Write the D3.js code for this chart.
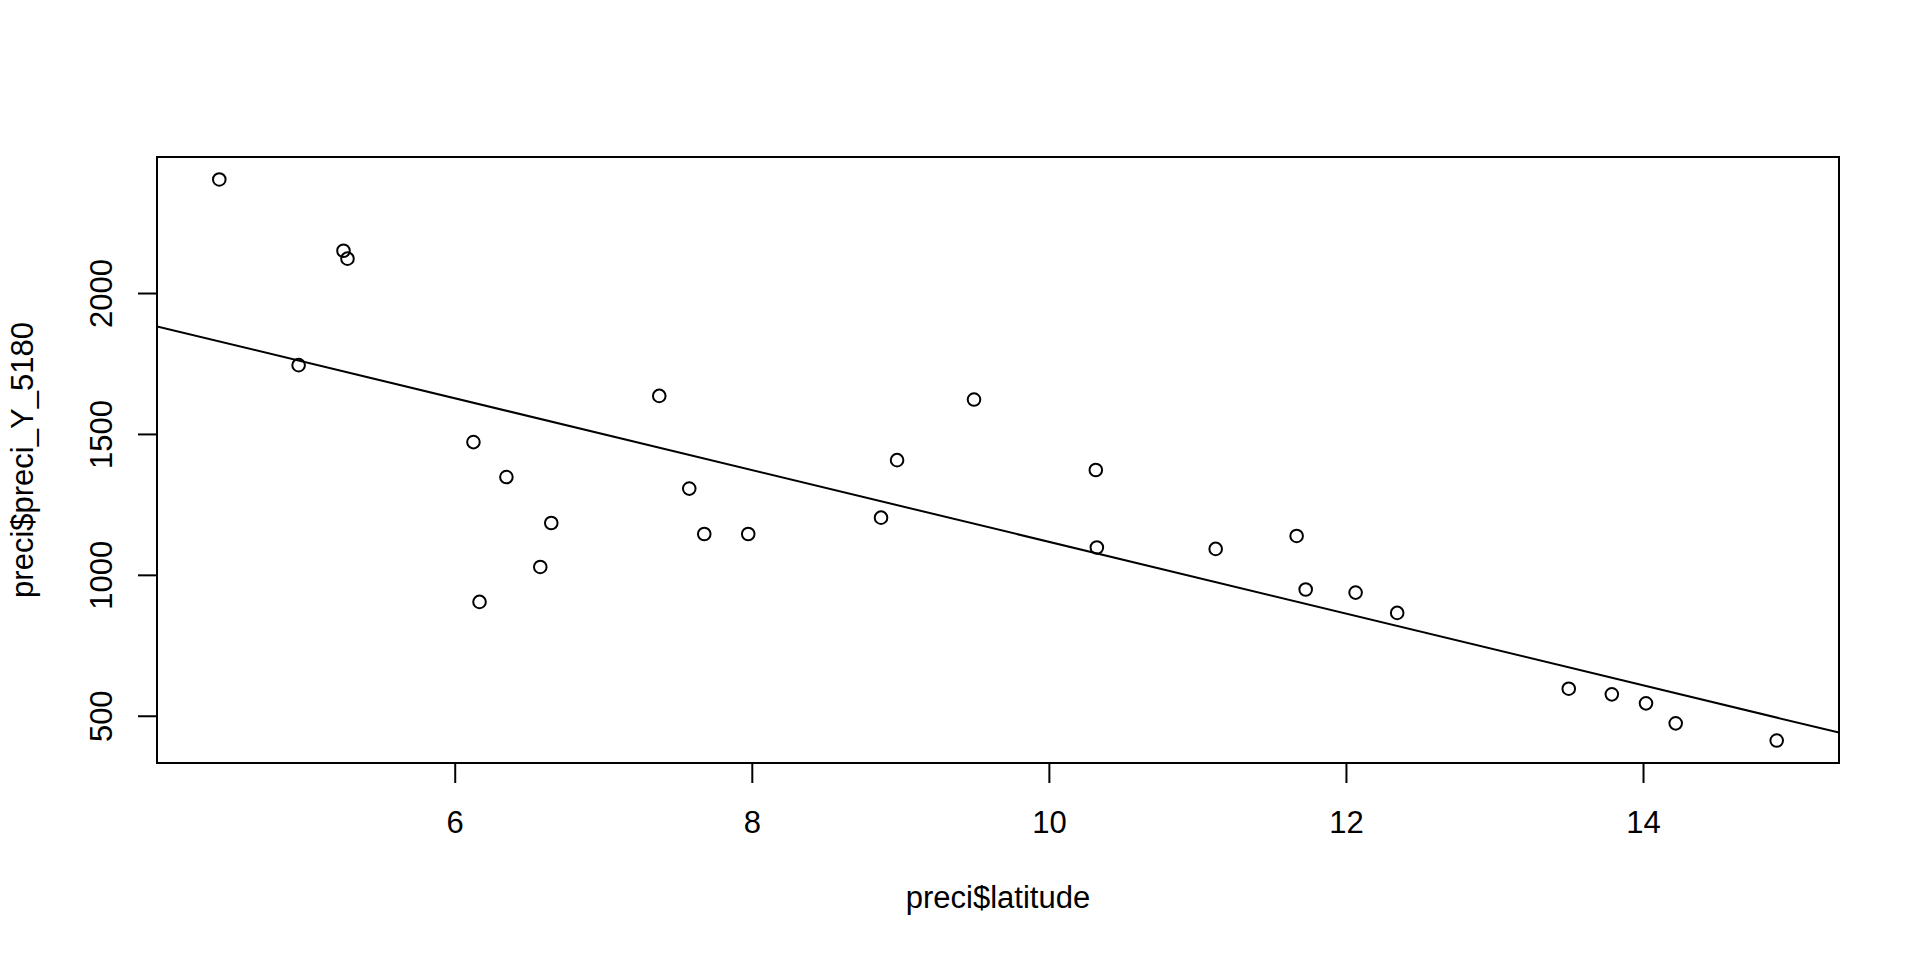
<!DOCTYPE html>
<html>
<head>
<meta charset="utf-8">
<script src="https://cdn.jsdelivr.net/npm/d3@7"></script>
<style>
  html, body { margin: 0; padding: 0; background: #fff; }
  svg { display: block; font-family: "Liberation Sans", Arial, sans-serif; }
</style>
</head>
<body>
<svg id="chart" width="1920" height="960"></svg>
<script>
// Data
const latitude = [4.415, 4.949, 5.251, 5.278, 6.126, 6.167, 6.348, 6.576, 6.650, 7.377,
                  7.579, 7.680, 7.976, 8.870, 8.978, 9.496, 10.316, 10.323, 11.123, 11.668,
                  11.729, 12.065, 12.345, 13.50, 13.79, 14.02, 14.22, 14.90];
const preciY5180 = [2403, 1744, 2150, 2122, 1471, 904, 1347, 1028, 1184, 1635,
                    1306, 1145, 1145, 1203, 1407, 1622, 1372, 1097, 1092, 1138,
                    948, 937, 865, 596, 576, 544, 473, 412];
const xTicks = [6, 8, 10, 12, 14];
const yTicks = [500, 1000, 1500, 2000];
const xLabel = "preci$latitude";
const yLabel = "preci$preci_Y_5180";

const L = 157, R = 1839, T = 157, B = 763;
const FS = 31;

function rExtend(ext) {
  const d = (ext[1] - ext[0]) * 0.04;
  return [ext[0] - d, ext[1] + d];
}

const x = d3.scaleLinear().domain(rExtend(d3.extent(latitude))).range([L, R]);
const y = d3.scaleLinear().domain(rExtend(d3.extent(preciY5180))).range([B, T]);

const svg = d3.select("#chart");
svg.append("rect").attr("width", 1920).attr("height", 960).attr("fill", "#fff");

// least squares fit (abline(lm(...)))
const mx = d3.mean(latitude), my = d3.mean(preciY5180);
let sxx = 0, sxy = 0;
latitude.forEach((v, i) => { sxx += (v - mx) ** 2; sxy += (v - mx) * (preciY5180[i] - my); });
const slope = sxy / sxx, intercept = my - slope * mx;

svg.append("clipPath").attr("id", "clip")
  .append("rect").attr("x", L).attr("y", T).attr("width", R - L).attr("height", B - T);

const xd = x.domain();
svg.append("line")
  .attr("clip-path", "url(#clip)")
  .attr("x1", x(xd[0])).attr("y1", y(intercept + slope * xd[0]))
  .attr("x2", x(xd[1])).attr("y2", y(intercept + slope * xd[1]))
  .attr("stroke", "#000").attr("stroke-width", 2);

// points
svg.append("g").selectAll("circle")
  .data(latitude.map((v, i) => [v, preciY5180[i]]))
  .join("circle")
  .attr("cx", d => x(d[0])).attr("cy", d => y(d[1]))
  .attr("r", 6.3).attr("fill", "none").attr("stroke", "#000").attr("stroke-width", 2);

// box
svg.append("rect").attr("x", L).attr("y", T).attr("width", R - L).attr("height", B - T)
  .attr("fill", "none").attr("stroke", "#000").attr("stroke-width", 2);

// x axis
const gx = svg.append("g").attr("transform", `translate(0,${B})`)
  .call(d3.axisBottom(x).tickValues(xTicks).tickSize(20).tickFormat(d3.format("d")));
gx.select(".domain").remove();
gx.selectAll(".tick line").attr("stroke", "#000").attr("stroke-width", 2);
gx.selectAll(".tick text").attr("y", 833 - B).attr("dy", 0)
  .attr("font-size", FS).attr("font-family", "Liberation Sans, Arial, sans-serif").attr("fill", "#000");

// y axis
const gy = svg.append("g").attr("transform", `translate(${L},0)`)
  .call(d3.axisLeft(y).tickValues(yTicks).tickSize(19).tickFormat(d3.format("d")));
gy.select(".domain").remove();
gy.selectAll(".tick line").attr("stroke", "#000").attr("stroke-width", 2);
gy.selectAll(".tick text")
  .attr("x", 0).attr("y", 0).attr("dy", 0)
  .attr("text-anchor", "middle")
  .attr("transform", `translate(${112 - L},0) rotate(-90)`)
  .attr("font-size", FS).attr("font-family", "Liberation Sans, Arial, sans-serif").attr("fill", "#000");

// axis titles
svg.append("text").attr("x", (L + R) / 2).attr("y", 908)
  .attr("text-anchor", "middle").attr("font-size", FS).attr("fill", "#000").text(xLabel);
svg.append("text").attr("transform", `translate(33,${(T + B) / 2}) rotate(-90)`)
  .attr("text-anchor", "middle").attr("font-size", FS).attr("fill", "#000").text(yLabel);
</script>
</body>
</html>
